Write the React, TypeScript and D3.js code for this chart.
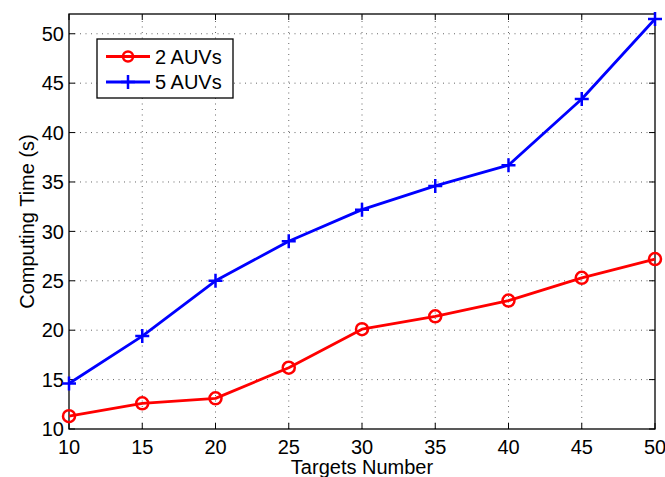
import { useEffect, useRef } from 'react'
import * as d3 from 'd3'

const TARGETS = [10, 15, 20, 25, 30, 35, 40, 45, 50]
const AUV2 = [11.3, 12.6, 13.1, 16.2, 20.1, 21.4, 23.0, 25.3, 27.2]
const AUV5 = [14.6, 19.4, 25.0, 29.0, 32.2, 34.6, 36.7, 43.4, 51.5]
const X_TICKS = [10, 15, 20, 25, 30, 35, 40, 45, 50]
const Y_TICKS = [10, 15, 20, 25, 30, 35, 40, 45, 50]
const SERIES = [
  { label: '2 AUVs', values: AUV2, color: '#ff0000', marker: 'circle' },
  { label: '5 AUVs', values: AUV5, color: '#0000ff', marker: 'plus' },
]

export default function App() {
  const svgRef = useRef<SVGSVGElement>(null)

  useEffect(() => {
    if (!svgRef.current) return
    const W = 665, H = 477
    const m = { l: 69, r: 10, t: 14, b: 48 }
    const svg = d3.select(svgRef.current).attr('width', W).attr('height', H)
    svg.selectAll('*').remove()
    const font = 'Liberation Sans, Arial, Helvetica, sans-serif'
    const fs = 20

    const x = d3.scaleLinear().domain([10, 50]).range([m.l, W - m.r])
    const y = d3.scaleLinear().domain([10, 52]).range([H - m.b, m.t])
    const [x0, x1] = x.range()
    const [y0, y1] = y.range()

    svg.append('rect').attr('width', W).attr('height', H).attr('fill', '#fff')

    // dotted grid
    const grid = svg.append('g').attr('stroke', '#666').attr('stroke-width', 1).attr('stroke-dasharray', '1,4.5')
    X_TICKS.slice(1, -1).forEach(t => {
      grid.append('line').attr('x1', x(t)).attr('x2', x(t)).attr('y1', y0).attr('y2', y1)
    })
    Y_TICKS.slice(1).forEach(t => {
      grid.append('line').attr('x1', x0).attr('x2', x1).attr('y1', y(t)).attr('y2', y(t))
    })

    // box and ticks
    svg.append('rect').attr('x', x0).attr('y', y1).attr('width', x1 - x0).attr('height', y0 - y1)
      .attr('fill', 'none').attr('stroke', '#000').attr('stroke-width', 1.3)
    const tk = svg.append('g').attr('stroke', '#000').attr('stroke-width', 1)
    const tl = 6
    X_TICKS.forEach(t => {
      tk.append('line').attr('x1', x(t)).attr('x2', x(t)).attr('y1', y0).attr('y2', y0 - tl)
      tk.append('line').attr('x1', x(t)).attr('x2', x(t)).attr('y1', y1).attr('y2', y1 + tl)
    })
    Y_TICKS.forEach(t => {
      tk.append('line').attr('x1', x0).attr('x2', x0 + tl).attr('y1', y(t)).attr('y2', y(t))
      tk.append('line').attr('x1', x1).attr('x2', x1 - tl).attr('y1', y(t)).attr('y2', y(t))
    })

    X_TICKS.forEach(t => {
      svg.append('text').attr('x', x(t)).attr('y', y0 + 25).attr('text-anchor', 'middle')
        .attr('font-family', font).attr('font-size', fs).attr('fill', '#000').text(t)
    })
    Y_TICKS.forEach(t => {
      svg.append('text').attr('x', x0 - 5).attr('y', y(t)).attr('dy', '0.36em').attr('text-anchor', 'end')
        .attr('font-family', font).attr('font-size', fs).attr('fill', '#000').text(t)
    })

    svg.append('text').attr('x', (x0 + x1) / 2).attr('y', 474).attr('text-anchor', 'middle')
      .attr('font-family', font).attr('font-size', fs).attr('fill', '#000').text('Targets Number')
    svg.append('text').attr('transform', `translate(34,${(y0 + y1) / 2}) rotate(-90)`).attr('text-anchor', 'middle')
      .attr('font-family', font).attr('font-size', fs).attr('fill', '#000').text('Computing Time (s)')

    const drawMarker = (g: d3.Selection<SVGGElement, unknown, null, undefined>, kind: string, cx: number, cy: number, color: string, s: number) => {
      if (kind === 'circle') {
        g.append('circle').attr('cx', cx).attr('cy', cy).attr('r', s).attr('fill', 'none')
          .attr('stroke', color).attr('stroke-width', 2.5)
      } else {
        g.append('path').attr('d', `M${cx - s - 1},${cy}H${cx + s + 1}M${cx},${cy - s - 1}V${cy + s + 1}`)
          .attr('stroke', color).attr('stroke-width', 2.5)
      }
    }

    const line = d3.line<number>().x((_, i) => x(TARGETS[i])).y(d => y(d))
    SERIES.forEach(s => {
      const g = svg.append('g')
      g.append('path').attr('d', line(s.values) ?? '').attr('fill', 'none')
        .attr('stroke', s.color).attr('stroke-width', 2.8).attr('stroke-linejoin', 'round')
      s.values.forEach((v, i) => drawMarker(g, s.marker, x(TARGETS[i]), y(v), s.color, 6))
    })

    // legend
    const lg = svg.append('g')
    lg.append('rect').attr('x', 97).attr('y', 39).attr('width', 136).attr('height', 59)
      .attr('fill', '#fff').attr('stroke', '#000').attr('stroke-width', 1.3)
    SERIES.forEach((s, i) => {
      const ly = 56.5 + i * 25.5
      lg.append('line').attr('x1', 106).attr('x2', 150).attr('y1', ly).attr('y2', ly)
        .attr('stroke', s.color).attr('stroke-width', 2.8)
      drawMarker(lg, s.marker, 128, ly, s.color, s.marker === 'circle' ? 5 : 6)
      lg.append('text').attr('x', 155).attr('y', ly).attr('dy', '0.36em')
        .attr('font-family', font).attr('font-size', fs).attr('fill', '#000').text(s.label)
    })
  }, [])

  return <svg ref={svgRef} style={{ position: 'absolute', left: 0, top: 0, display: 'block' }} />
}
